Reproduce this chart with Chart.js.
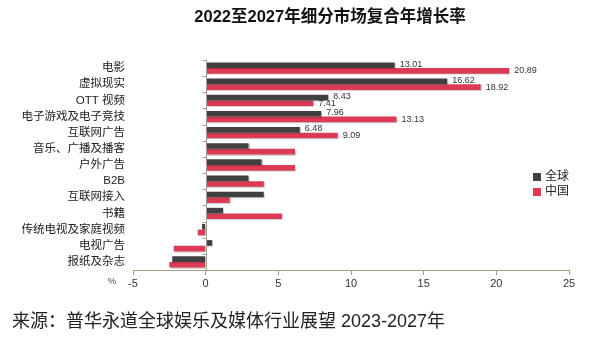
<!DOCTYPE html>
<html>
<head>
<meta charset="utf-8">
<script src="https://cdn.jsdelivr.net/npm/chart.js@4"></script>
<style>
  html, body { margin: 0; padding: 0; background: #fff; }
  #wrap { width: 593px; height: 340px; position: relative; }
</style>
</head>
<body>
<div id="wrap"><canvas id="c" width="593" height="340"></canvas></div>
<script>
const FONT = '"Liberation Sans", Arial, "Noto Sans CJK SC", sans-serif'

const segments = ['电影', '虚拟现实', 'OTT 视频', '电子游戏及电子竞技', '互联网广告', '音乐、广播及播客', '户外广告',
  'B2B', '互联网接入', '书籍', '传统电视及家庭视频', '电视广告', '报纸及杂志']
const globalCagr = [13.01, 16.62, 8.43, 7.96, 6.48, 2.95, 3.85, 2.95, 4.0, 1.2, -0.25, 0.45, -2.3]
const chinaCagr = [20.89, 18.92, 7.41, 13.13, 9.09, 6.15, 6.15, 4.0, 1.65, 5.25, -0.55, -2.2, -2.5]
const seriesNames = ['全球', '中国']
const labeledCount = 5 // only the top five segments carry value labels

const GRAY = '#404040'
const RED = '#dc3a55'
const AXIS = '#a39e88'

// titles, legend, % unit, value labels and the zero axis
const decor = {
  id: 'decor',
  beforeDatasetsDraw(chart) {
    const ctx = chart.ctx
    ctx.save()
    ctx.shadowColor = 'rgba(0,0,0,0.18)'
    ctx.shadowOffsetX = 1
    ctx.shadowOffsetY = 1
    ctx.shadowBlur = 1
  },
  afterDatasetsDraw(chart) {
    const ctx = chart.ctx
    ctx.restore()
    const { top, bottom } = chart.chartArea
    const x = chart.scales.x
    const x0 = Math.round(x.getPixelForValue(0)) + 0.5

    // zero line with category boundary ticks
    ctx.save()
    ctx.strokeStyle = AXIS
    ctx.lineWidth = 1
    ctx.beginPath()
    ctx.moveTo(x0, top)
    ctx.lineTo(x0, bottom)
    const step = (bottom - top) / segments.length
    for (let i = 0; i < segments.length; i++) {
      const yy = Math.round(top + i * step) + 0.5
      ctx.moveTo(x0 - 4, yy)
      ctx.lineTo(x0, yy)
    }
    ctx.stroke()

    // value labels
    ctx.font = '9px ' + FONT
    ctx.fillStyle = '#333'
    ctx.textBaseline = 'middle'
    ctx.textAlign = 'left'
    chart.data.datasets.forEach((ds, di) => {
      const meta = chart.getDatasetMeta(di)
      for (let i = 0; i < labeledCount; i++) {
        const bar = meta.data[i]
        ctx.fillText(ds.data[i].toFixed(2), bar.x + 5, bar.y - (di === 0 ? 1 : 0))
      }
    })

    // legend
    const lx = 533
    const ly = [177, 192]
    ;[GRAY, RED].forEach((c, i) => {
      ctx.fillStyle = c
      ctx.fillRect(lx, ly[i] - 4, 8, 8)
      ctx.fillStyle = '#222'
      ctx.font = '12px ' + FONT
      ctx.fillText(seriesNames[i], lx + 12, ly[i])
    })

    // unit
    ctx.font = '9px ' + FONT
    ctx.fillStyle = '#444'
    ctx.textAlign = 'center'
    ctx.fillText('%', 112, 282)

    // title
    ctx.font = 'bold 16.5px ' + FONT
    ctx.fillStyle = '#111'
    ctx.fillText('2022至2027年细分市场复合年增长率', 330, 17)

    // source
    ctx.font = '18px ' + FONT
    ctx.fillStyle = '#222'
    ctx.textAlign = 'left'
    ctx.fillText('来源：普华永道全球娱乐及媒体行业展望 2023-2027年', 12, 322)
    ctx.restore()
  }
}

new Chart(document.getElementById('c'), {
  type: 'bar',
  data: {
    labels: segments,
    datasets: [
      { label: seriesNames[0], data: globalCagr, backgroundColor: GRAY },
      { label: seriesNames[1], data: chinaCagr, backgroundColor: RED }
    ]
  },
  options: {
    indexAxis: 'y',
    responsive: false,
    animation: false,
    categoryPercentage: 0.7,
    barPercentage: 1.0,
    layout: { padding: { top: 60, right: 24, bottom: 48, left: 0 } },
    plugins: {
      legend: { display: false },
      tooltip: { enabled: false }
    },
    scales: {
      x: {
        min: -5,
        max: 25,
        ticks: { stepSize: 5, color: '#333', font: { family: FONT, size: 11 }, padding: 2 },
        grid: { drawOnChartArea: false, drawTicks: true, tickLength: 5, color: AXIS },
        border: { color: AXIS },
        afterFit(s) { s.height = 22 }
      },
      y: {
        ticks: { color: '#222', font: { family: FONT, size: 11.5 }, padding: 8, autoSkip: false },
        grid: { display: false, drawTicks: false },
        border: { display: false },
        afterFit(s) { s.width = 133 }
      }
    }
  },
  plugins: [decor]
})
</script>
</body>
</html>
